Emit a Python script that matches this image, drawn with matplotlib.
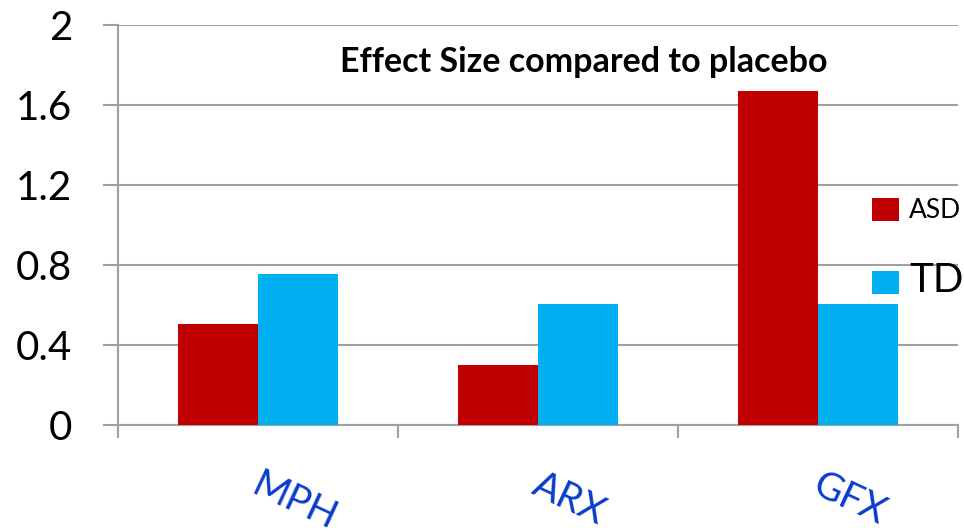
import matplotlib.pyplot as plt
import numpy as np

plt.rcParams['font.family'] = ['Lato', 'DejaVu Sans']

drugs = ['MPH', 'ARX', 'GFX']
asd = [0.505, 0.30, 1.67]
td = [0.755, 0.605, 0.605]
y_ticks = [0, 0.4, 0.8, 1.2, 1.6, 2]
y_labels = ['0', '0.4', '0.8', '1.2', '1.6', '2']

grey = '#a0a0a0'
fig = plt.figure(figsize=(9.64, 5.31), dpi=100)
ax = fig.add_axes([0.1224, 0.1996, 0.8714, 0.7533])

x = np.arange(len(drugs))
w = 0.286
ax.bar(x - w / 2, asd, w, color='#C00000', label='ASD', zorder=3)
ax.bar(x + w / 2, td, w, color='#00B0F0', label='TD', zorder=3)

ax.set_xlim(-0.5, 2.5)
ax.set_ylim(0, 2)
ax.set_yticks(y_ticks)
ax.set_yticklabels(y_labels, fontsize=29)
ax.yaxis.grid(True, color=grey, linewidth=1.5, zorder=0)
ax.tick_params(axis='y', length=11, width=1.5, color=grey, pad=22)

# category boundaries as ticks, names as rotated text
ax.set_xticks(np.arange(-0.5, 3, 1))
ax.set_xticklabels([])
ax.tick_params(axis='x', length=9, width=1.5, color=grey)
for i, name in enumerate(drugs):
    ax.annotate(name, xy=(i, 0), xycoords=('data', 'axes fraction'),
                xytext=(3, -30), textcoords='offset points',
                rotation=-25, rotation_mode='anchor', ha='left', va='top',
                fontsize=28, color='#0A3CCC')

for s in ['top', 'right']:
    ax.spines[s].set_visible(False)
for s in ['left', 'bottom']:
    ax.spines[s].set_color(grey)
    ax.spines[s].set_linewidth(1.5)

ax.text(0.555, 0.907, 'Effect Size compared to placebo', transform=ax.transAxes,
        ha='center', va='center', fontsize=24.5, fontweight='bold')

leg = ax.legend(loc='upper left', bbox_to_anchor=(0.8695, 0.628), frameon=False,
                handlelength=1.0, handleheight=1.0, labelspacing=1.45,
                handletextpad=0.4, fontsize=19)
texts = leg.get_texts()
texts[1].set_fontsize(29)

fig.savefig('out.png', dpi=100)
